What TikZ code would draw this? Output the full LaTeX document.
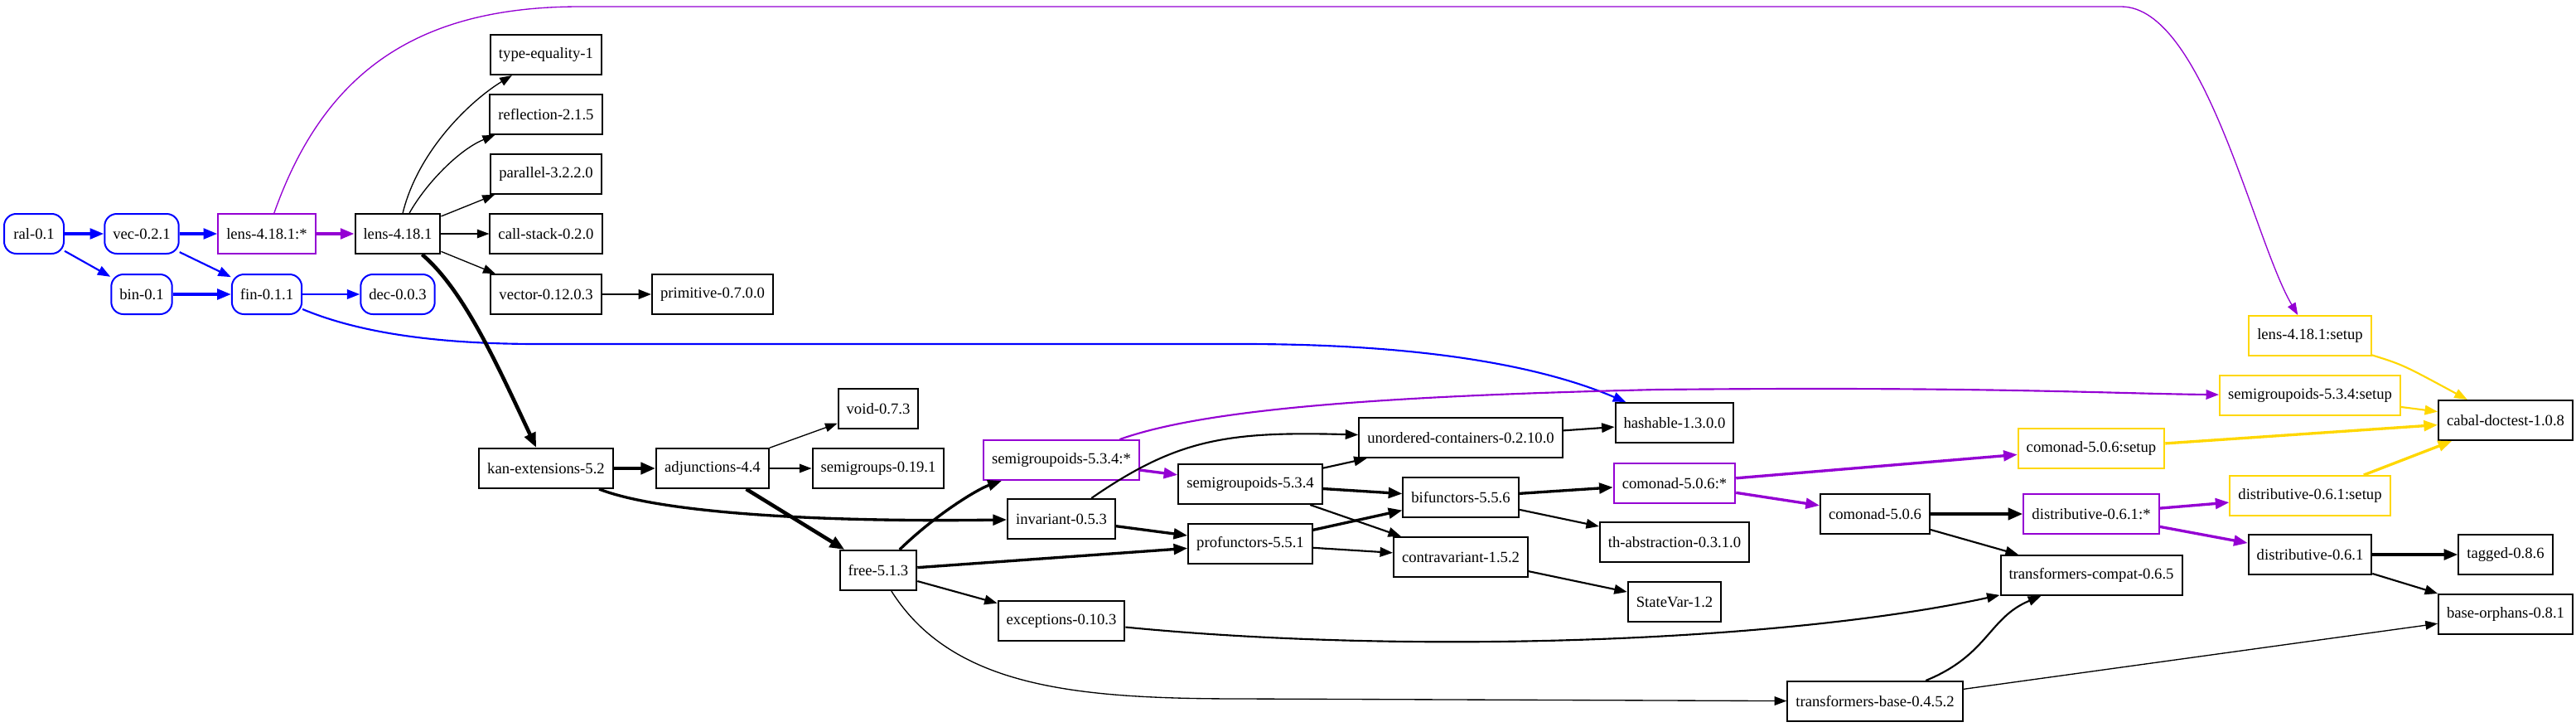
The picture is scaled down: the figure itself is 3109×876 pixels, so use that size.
\documentclass[tikz,border=0pt]{standalone}
\usepackage{fontspec}
\setmainfont{Liberation Serif}
\usepackage{tikz}
\usetikzlibrary{arrows.meta}
\definecolor{dviolet}{HTML}{9400D3}
\definecolor{gold}{HTML}{FFD700}

\begin{document}
\begin{tikzpicture}[x=0.75pt,y=-0.75pt,>={Triangle[length=10pt 1,width=7pt 1]},
  pkg/.style={draw,line width=1.5pt,font=\fontsize{14}{16}\selectfont,
    minimum height=36pt,minimum width=54pt,inner xsep=7.5pt,inner ysep=2pt},
  src/.style={pkg,draw=blue,rounded corners=11pt},
  cpt/.style={pkg,draw=dviolet},
  stp/.style={pkg,draw=gold},
  w1/.style={line width=1pt},
  w2/.style={line width=1.6pt},
  w3/.style={line width=2.5pt},
  w4/.style={line width=3.4pt}]
  \useasboundingbox (0,0) rectangle (3109,876);

  % sources
  \node[src] (ral) at (41,282)  {ral-0.1};
  \node[src] (vec) at (171,282) {vec-0.2.1};
  \node[src] (bin) at (171,355) {bin-0.1};
  \node[src] (fin) at (322,355) {fin-0.1.1};
  \node[src] (dec) at (480,355) {dec-0.0.3};
  \node[cpt] (lensS) at (322,282) {lens-4.18.1:*};
  \node[pkg] (lens)  at (480,282) {lens-4.18.1};

  \node[pkg] (tyeq)   at (659,66)  {type-equality-1};
  \node[pkg] (refl)   at (659,138) {reflection-2.1.5};
  \node[pkg] (para)   at (659,210) {parallel-3.2.2.0};
  \node[pkg] (cstack) at (659,282) {call-stack-0.2.0};
  \node[pkg] (vector) at (659,355) {vector-0.12.0.3};
  \node[pkg] (prim)   at (860,355) {primitive-0.7.0.0};
  \node[pkg] (kan)    at (659,565) {kan-extensions-5.2};
  \node[pkg] (adj)    at (860,565) {adjunctions-4.4};
  \node[pkg] (void)   at (1060,493) {void-0.7.3};
  \node[pkg] (sgrps)  at (1060,565) {semigroups-0.19.1};
  \node[pkg] (free)   at (1060,688) {free-5.1.3};
  \node[cpt] (sgpdS)  at (1281,555) {semigroupoids-5.3.4:*};
  \node[pkg] (inv)    at (1281,626) {invariant-0.5.3};
  \node[pkg] (exc)    at (1281,749) {exceptions-0.10.3};
  \node[pkg] (sgpd)   at (1509,584) {semigroupoids-5.3.4};
  \node[pkg] (prof)   at (1509,656) {profunctors-5.5.1};
  \node[pkg] (uc)     at (1763,528) {unordered-containers-0.2.10.0};
  \node[pkg] (bif)    at (1763,600) {bifunctors-5.5.6};
  \node[pkg] (contra) at (1763,672) {contravariant-1.5.2};
  \node[pkg] (hash)   at (2021,510) {hashable-1.3.0.0};
  \node[cpt] (comS)   at (2021,583) {comonad-5.0.6:*};
  \node[pkg] (thabs)  at (2021,654) {th-abstraction-0.3.1.0};
  \node[pkg] (svar)   at (2021,726) {StateVar-1.2};
  \node[pkg] (com)    at (2263,620) {comonad-5.0.6};
  \node[pkg] (tbase)  at (2263,846) {transformers-base-0.4.5.2};
  \node[stp] (comSetup) at (2524,541) {comonad-5.0.6:setup};
  \node[cpt] (distS)    at (2524,620) {distributive-0.6.1:*};
  \node[pkg] (tcompat)  at (2524,694) {transformers-compat-0.6.5};
  \node[stp] (lensSetup) at (2788,405) {lens-4.18.1:setup};
  \node[stp] (sgpdSetup) at (2788,477) {semigroupoids-5.3.4:setup};
  \node[stp] (distSetup) at (2788,598) {distributive-0.6.1:setup};
  \node[pkg] (dist)      at (2788,669) {distributive-0.6.1};
  \node[pkg] (cabal)  at (3024,507) {cabal-doctest-1.0.8};
  \node[pkg] (tagged) at (3024,669) {tagged-0.8.6};
  \node[pkg] (borph)  at (3024,741) {base-orphans-0.8.1};

  % blue
  \draw[->,blue,w3] (ral) -- (vec);
  \draw[->,blue,w2] (ral) -- (bin);
  \draw[->,blue,w3] (vec) -- (lensS);
  \draw[->,blue,w2] (vec) -- (fin);
  \draw[->,blue,w3] (bin) -- (fin);
  \draw[->,blue,w2] (fin) -- (dec);
  \draw[->,blue,w2] (fin) .. controls (430,400) and (520,415) .. (650,415)
    -- (1500,415) .. controls (1750,415) and (1880,450) .. (hash);

  % purple
  \draw[->,dviolet,w3] (lensS) -- (lens);
  \draw[->,dviolet,w1] (lensS) .. controls (390,90) and (500,8) .. (700,8)
    -- (2560,8) .. controls (2660,8) and (2720,290) .. (lensSetup);
  \draw[->,dviolet,w3] (sgpdS) -- (sgpd);
  \draw[->,dviolet,w2] (sgpdS) .. controls (1450,495) and (1650,478) .. (2000,470)
    .. controls (2400,466) and (2550,475) .. (sgpdSetup);
  \draw[->,dviolet,w3] (comS) -- (comSetup);
  \draw[->,dviolet,w3] (comS) -- (com);
  \draw[->,dviolet,w3] (distS) -- (distSetup);
  \draw[->,dviolet,w3] (distS) -- (dist);

  % gold
  \draw[->,gold,w2] (lensSetup) .. controls (2900,440) .. (cabal);
  \draw[->,gold,w2] (sgpdSetup) -- (cabal);
  \draw[->,gold,w3] (comSetup) -- (cabal);
  \draw[->,gold,w3] (distSetup) -- (cabal);

  % black
  \draw[->,w1] (lens) .. controls (505,180) and (570,120) .. (tyeq);
  \draw[->,w1] (lens) .. controls (515,220) and (555,180) .. (refl);
  \draw[->,w1] (lens) -- (para);
  \draw[->,w1] (lens) -- (cstack);
  \draw[->,w1] (lens) -- (vector);
  \draw[->,w2] (vector) -- (prim);
  \draw[->,w4] (lens) .. controls (560,350) and (600,440) .. (kan);
  \draw[->,w4] (kan) -- (adj);
  \draw[->,w3] (kan) .. controls (800,620) and (1000,630) .. (inv);
  \draw[->,w1] (adj) -- (void);
  \draw[->,w1] (adj) -- (sgrps);
  \draw[->,w4] (adj) -- (free);
  \draw[->,w3] (free) .. controls (1130,620) and (1180,590) .. (sgpdS);
  \draw[->,w3] (free) -- (prof);
  \draw[->,w2] (free) -- (exc);
  \draw[->,w1] (free) .. controls (1150,830) and (1300,843) .. (1500,843) -- (tbase);
  \draw[->,w2] (inv) .. controls (1420,530) and (1480,520) .. (uc);
  \draw[->,w3] (inv) -- (prof);
  \draw[->,w2] (sgpd) -- (uc);
  \draw[->,w3] (sgpd) -- (bif);
  \draw[->,w2] (sgpd) -- (contra);
  \draw[->,w3] (prof) -- (bif);
  \draw[->,w2] (prof) -- (contra);
  \draw[->,w2] (uc) -- (hash);
  \draw[->,w3] (bif) -- (comS);
  \draw[->,w2] (bif) -- (thabs);
  \draw[->,w2] (contra) -- (svar);
  \draw[->,w4] (com) -- (distS);
  \draw[->,w2] (com) -- (tcompat);
  \draw[->,w2] (exc) .. controls (1700,790) and (2150,775) .. (tcompat);
  \draw[->,w2] (tbase) .. controls (2400,790) and (2400,745) .. (tcompat);
  \draw[->,w1] (tbase) -- (borph);
  \draw[->,w3] (dist) -- (tagged);
  \draw[->,w2] (dist) -- (borph);
\end{tikzpicture}
\end{document}
